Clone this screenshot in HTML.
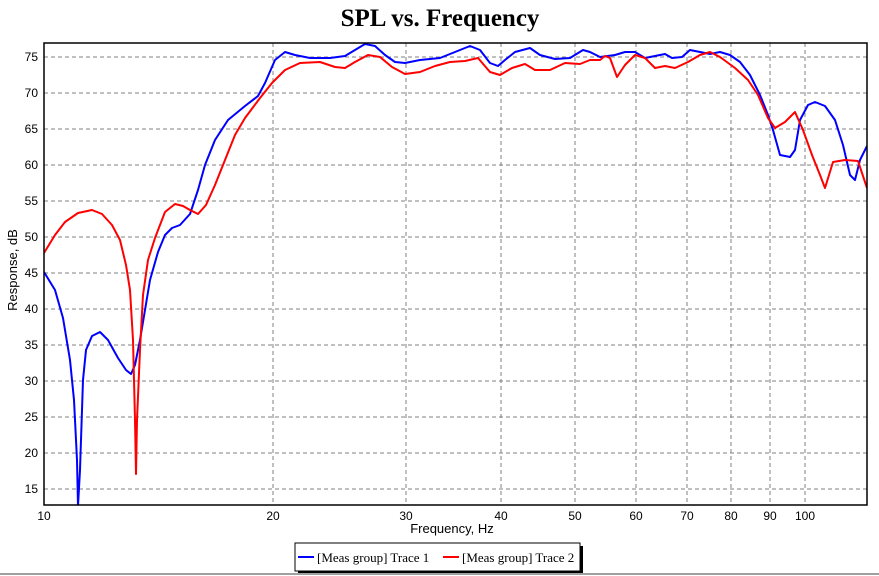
<!DOCTYPE html>
<html><head><meta charset="utf-8"><style>
html,body{margin:0;padding:0;background:#fff;}
svg{display:block;}
</style></head><body>
<svg width="879" height="576" xmlns="http://www.w3.org/2000/svg" font-family="Liberation Sans, sans-serif">
<rect width="879" height="576" fill="#fff"/>
<text x="440" y="26" text-anchor="middle" font-family="Liberation Serif, serif" font-weight="bold" font-size="25">SPL vs. Frequency</text>
<g stroke="#808080" stroke-dasharray="4,3" stroke-width="1">
<line x1="44" x2="867" y1="57" y2="57"/><line x1="44" x2="867" y1="93" y2="93"/><line x1="44" x2="867" y1="129" y2="129"/><line x1="44" x2="867" y1="165" y2="165"/><line x1="44" x2="867" y1="201" y2="201"/><line x1="44" x2="867" y1="237" y2="237"/><line x1="44" x2="867" y1="273" y2="273"/><line x1="44" x2="867" y1="309" y2="309"/><line x1="44" x2="867" y1="345" y2="345"/><line x1="44" x2="867" y1="381" y2="381"/><line x1="44" x2="867" y1="417" y2="417"/><line x1="44" x2="867" y1="453" y2="453"/><line x1="44" x2="867" y1="489" y2="489"/>
<line x1="273" x2="273" y1="43" y2="505"/><line x1="406" x2="406" y1="43" y2="505"/><line x1="501" x2="501" y1="43" y2="505"/><line x1="575" x2="575" y1="43" y2="505"/><line x1="636" x2="636" y1="43" y2="505"/><line x1="687" x2="687" y1="43" y2="505"/><line x1="731" x2="731" y1="43" y2="505"/><line x1="770" x2="770" y1="43" y2="505"/><line x1="805" x2="805" y1="43" y2="505"/>
</g>
<g font-size="12" fill="#000" text-anchor="end">
<text x="38" y="61">75</text><text x="38" y="97">70</text><text x="38" y="133">65</text><text x="38" y="169">60</text><text x="38" y="205">55</text><text x="38" y="241">50</text><text x="38" y="277">45</text><text x="38" y="313">40</text><text x="38" y="349">35</text><text x="38" y="385">30</text><text x="38" y="421">25</text><text x="38" y="457">20</text><text x="38" y="493">15</text>
</g>
<g font-size="12" fill="#000" text-anchor="middle">
<text x="44" y="520">10</text><text x="273" y="520">20</text><text x="406" y="520">30</text><text x="501" y="520">40</text><text x="575" y="520">50</text><text x="636" y="520">60</text><text x="687" y="520">70</text><text x="731" y="520">80</text><text x="770" y="520">90</text><text x="805" y="520">100</text>
</g>
<text x="452" y="533" text-anchor="middle" font-size="13">Frequency, Hz</text>
<text transform="translate(17,270) rotate(-90)" text-anchor="middle" font-size="13">Response, dB</text>
<clipPath id="c"><rect x="44" y="43" width="823" height="462"/></clipPath>
<g clip-path="url(#c)" fill="none" stroke-width="2" stroke-linejoin="round">
<polyline stroke="#0000ff" points="44,272 55,290 63,318 70,360 74,400 77,460 78,506 80,470 83,380 86,350 92,336 100,332 108,340 118,358 126,370 131,374 135,365 140,340 145,310 150,280 158,252 165,235 172,228 180,225 190,214 198,190 205,165 215,140 228,120 245,106 258,96 265,83 275,60 285,52 295,55 310,58 330,58 345,56 355,50 365,44 375,46 385,55 395,62 405,63 420,60 440,58 455,52 470,46 480,50 490,63 498,66 505,60 515,52 530,48 540,55 555,59 570,58 583,50 590,52 600,57 615,55 625,52 635,52 645,58 655,56 665,54 672,58 682,57 690,50 700,52 710,54 720,52 730,55 740,62 750,75 760,95 768,115 773,130 780,155 790,157 795,150 800,120 808,105 815,102 825,106 835,120 843,145 850,175 855,180 860,160 867,146"/>
<polyline stroke="#ff0000" points="44,253 55,235 65,222 78,213 92,210 102,214 112,225 120,240 126,265 130,290 133,340 135,420 136,474 137,420 140,350 143,295 148,260 155,238 165,212 175,204 183,206 190,210 198,214 206,205 215,185 225,160 235,135 245,118 260,98 272,83 285,70 300,63 320,62 335,67 345,68 355,62 368,55 380,57 392,67 405,74 420,72 435,66 450,62 465,61 478,58 490,72 500,75 512,68 525,64 535,70 550,70 565,63 580,64 590,60 600,60 605,56 610,58 617,77 625,65 635,55 645,58 655,68 665,66 675,68 688,62 700,55 710,52 720,57 735,68 748,80 758,95 768,118 775,128 785,122 795,112 803,130 812,155 820,175 825,188 833,162 845,160 858,161 867,188"/>
</g>
<rect x="44" y="43" width="823" height="462" fill="none" stroke="#000" stroke-width="1.5"/>
<rect x="298" y="546" width="285" height="28" fill="#000"/>
<rect x="295" y="543" width="285" height="28" fill="#fff" stroke="#000" stroke-width="1"/>
<line x1="298" x2="314" y1="557" y2="557" stroke="#0000ff" stroke-width="2"/>
<text x="317" y="562" font-family="Liberation Serif, serif" font-size="13">[Meas group] Trace 1</text>
<line x1="443" x2="459" y1="557" y2="557" stroke="#ff0000" stroke-width="2"/>
<text x="462" y="562" font-family="Liberation Serif, serif" font-size="13">[Meas group] Trace 2</text>
<line x1="0" x2="879" y1="574" y2="574" stroke="#a0a0a0" stroke-width="2"/>
</svg>
</body></html>
